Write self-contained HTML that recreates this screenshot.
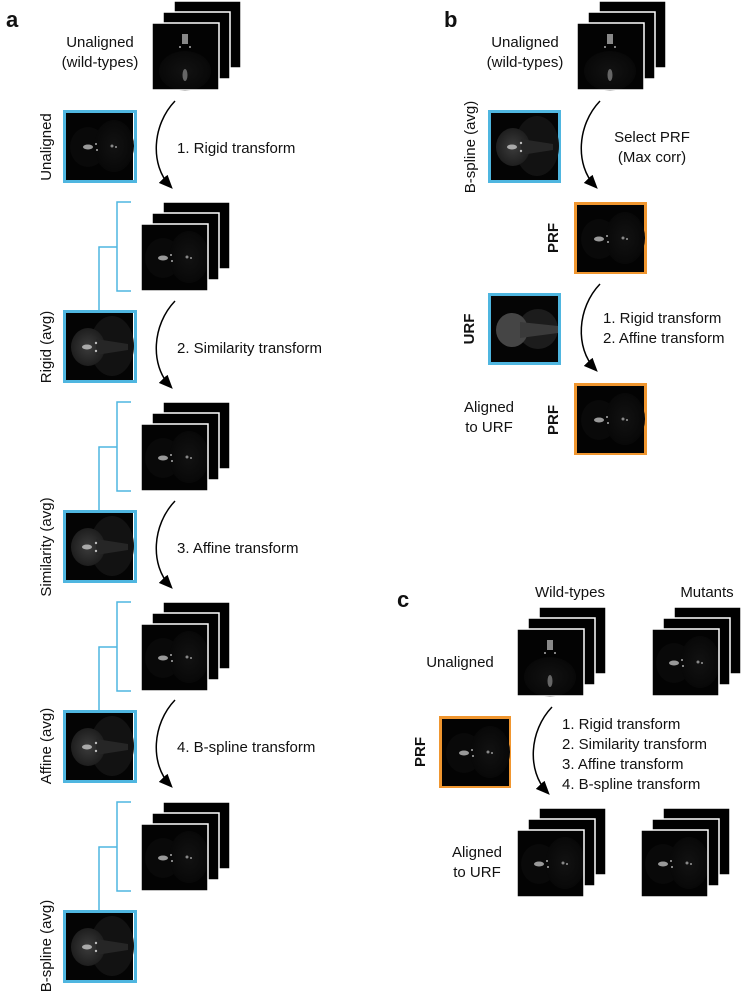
<!DOCTYPE html>
<html><head><meta charset="utf-8">
<style>
html,body{margin:0;padding:0;background:#fff;}
svg{display:block;}
text{font-family:"Liberation Sans",Arial,sans-serif;fill:#111;}
</style></head>
<body>
<svg width="743" height="998" viewBox="0 0 743 998" xmlns="http://www.w3.org/2000/svg">
<defs>
  <radialGradient id="dim" cx="50%" cy="50%" r="50%">
    <stop offset="0" stop-color="#121212"/><stop offset="1" stop-color="#080808"/>
  </radialGradient>
  <radialGradient id="avgg" cx="50%" cy="50%" r="50%">
    <stop offset="0" stop-color="#3c3c3c"/><stop offset="1" stop-color="#1e1e1e"/>
  </radialGradient>
  <g id="fh">
    <rect x="0" y="0" width="67" height="67" fill="#030303"/>
    <ellipse cx="22" cy="34" rx="18" ry="20" fill="#090909"/>
    <ellipse cx="48" cy="33" rx="20" ry="26" fill="url(#dim)"/>
    <ellipse cx="22" cy="34" rx="5" ry="2.5" fill="#999"/>
    <circle cx="30" cy="31" r="1" fill="#aaa"/><circle cx="31" cy="37" r="1" fill="#aaa"/>
    <circle cx="46" cy="33" r="1.5" fill="#888"/><circle cx="50" cy="34" r="1" fill="#999"/>
  </g>
  <g id="fv">
    <rect x="0" y="0" width="67" height="67" fill="#030303"/>
    <ellipse cx="33" cy="48" rx="26" ry="20" fill="url(#dim)"/>
    <rect x="30" y="11" width="6" height="10" fill="#888"/>
    <circle cx="28" cy="24" r="1" fill="#aaa"/><circle cx="38" cy="24" r="1" fill="#aaa"/>
    <ellipse cx="33" cy="52" rx="2.5" ry="6" fill="#666"/>
  </g>
  <g id="av">
    <rect x="0" y="0" width="67" height="67" fill="#040404"/>
    <ellipse cx="46" cy="33" rx="22" ry="30" fill="#121212"/>
    <ellipse cx="22" cy="34" rx="17" ry="19" fill="url(#avgg)"/>
    <path d="M30,26 L62,31 L62,37 L30,42 Z" fill="#262626"/>
    <ellipse cx="21" cy="34" rx="5" ry="2.5" fill="#aaa"/>
    <circle cx="30" cy="30" r="1.2" fill="#bbb"/><circle cx="30" cy="38" r="1.2" fill="#bbb"/>
  </g>
  <g id="stk">
    <rect x="22" y="-22" width="67" height="67" fill="#000" stroke="#fff" stroke-width="1.5"/>
    <rect x="11" y="-11" width="67" height="67" fill="#000" stroke="#fff" stroke-width="1.5"/>
  </g>
  <marker id="ah" markerWidth="14" markerHeight="12" refX="10" refY="6" orient="auto" markerUnits="userSpaceOnUse">
    <path d="M0,0 L14,6 L0,12 Z" fill="#000"/>
  </marker>
</defs>

<!-- Panel a -->
<text x="6" y="27" font-size="22" font-weight="bold">a</text>
<text x="100" y="47" font-size="15" text-anchor="middle">Unaligned</text>
<text x="100" y="67" font-size="15" text-anchor="middle">(wild-types)</text>
<use href="#stk" x="152" y="23"/>
<use href="#fv" x="152" y="23"/>
<rect x="152" y="23" width="67" height="67" fill="none" stroke="#fff" stroke-width="1.5"/>

<rect x="64.5" y="111.5" width="71" height="70" fill="none" stroke="#4fb6e0" stroke-width="3"/>
<use href="#fh" x="66" y="113"/>
<text transform="translate(51,147) rotate(-90)" font-size="15" text-anchor="middle">Unaligned</text>

<path d="M175,101 C152,125 150,165 170,186" fill="none" stroke="#000" stroke-width="1.5" marker-end="url(#ah)"/>
<text x="177" y="153" font-size="15">1. Rigid transform</text>

<g id="sec">
  <use href="#stk" x="141" y="224"/>
  <use href="#fh" x="141" y="224"/>
  <rect x="141" y="224" width="67" height="67" fill="none" stroke="#fff" stroke-width="1.5"/>
  <path d="M131,202 H117 V291 H131 M117,247 H99 V311" fill="none" stroke="#4fb6e0" stroke-width="1.5"/>
  <rect x="64.5" y="311.5" width="71" height="70" fill="none" stroke="#4fb6e0" stroke-width="3"/>
  <use href="#av" x="66" y="313"/>
</g>
<text transform="translate(51,347) rotate(-90)" font-size="15" text-anchor="middle">Rigid (avg)</text>
<path d="M175,301 C152,325 150,365 170,386" fill="none" stroke="#000" stroke-width="1.5" marker-end="url(#ah)"/>
<text x="177" y="353" font-size="15">2. Similarity transform</text>

<use href="#sec" y="200"/>
<text transform="translate(51,547) rotate(-90)" font-size="15" text-anchor="middle">Similarity (avg)</text>
<path d="M175,501 C152,525 150,565 170,586" fill="none" stroke="#000" stroke-width="1.5" marker-end="url(#ah)"/>
<text x="177" y="553" font-size="15">3. Affine transform</text>

<use href="#sec" y="400"/>
<text transform="translate(51,746) rotate(-90)" font-size="15" text-anchor="middle">Affine (avg)</text>
<path d="M175,700 C152,724 150,764 170,785" fill="none" stroke="#000" stroke-width="1.5" marker-end="url(#ah)"/>
<text x="177" y="752" font-size="15">4. B-spline transform</text>

<use href="#sec" y="600"/>
<text transform="translate(51,946) rotate(-90)" font-size="15" text-anchor="middle">B-spline (avg)</text>

<!-- Panel b -->
<text x="444" y="27" font-size="22" font-weight="bold">b</text>
<text x="525" y="47" font-size="15" text-anchor="middle">Unaligned</text>
<text x="525" y="67" font-size="15" text-anchor="middle">(wild-types)</text>
<use href="#stk" x="577" y="23"/>
<use href="#fv" x="577" y="23"/>
<rect x="577" y="23" width="67" height="67" fill="none" stroke="#fff" stroke-width="1.5"/>

<rect x="489.5" y="111.5" width="70" height="70" fill="none" stroke="#4fb6e0" stroke-width="3"/>
<use href="#av" x="491" y="113"/>
<text transform="translate(475,147) rotate(-90)" font-size="15" text-anchor="middle">B-spline (avg)</text>
<path d="M600,101 C577,125 575,165 595,186" fill="none" stroke="#000" stroke-width="1.5" marker-end="url(#ah)"/>
<text x="652" y="142" font-size="15" text-anchor="middle">Select PRF</text>
<text x="652" y="162" font-size="15" text-anchor="middle">(Max corr)</text>

<rect x="575.5" y="203.5" width="70" height="69" fill="none" stroke="#f0962f" stroke-width="3"/>
<use href="#fh" x="577" y="205"/>
<text transform="translate(558,238) rotate(-90)" font-size="15" font-weight="bold" text-anchor="middle">PRF</text>

<rect x="489.5" y="294.5" width="70" height="69" fill="none" stroke="#4fb6e0" stroke-width="3"/>
<rect x="491" y="296" width="67" height="66" fill="#050505"/>
<ellipse cx="538" cy="329" rx="20" ry="20" fill="#1c1c1c"/>
<ellipse cx="512" cy="330" rx="16" ry="17" fill="#454545"/>
<path d="M520,322 L558,326 L558,333 L520,338 Z" fill="#3a3a3a"/>
<text transform="translate(474,329) rotate(-90)" font-size="15" font-weight="bold" text-anchor="middle">URF</text>
<path d="M600,284 C577,308 575,348 595,369" fill="none" stroke="#000" stroke-width="1.5" marker-end="url(#ah)"/>
<text x="603" y="323" font-size="15">1. Rigid transform</text>
<text x="603" y="343" font-size="15">2. Affine transform</text>

<rect x="575.5" y="384.5" width="70" height="69" fill="none" stroke="#f0962f" stroke-width="3"/>
<use href="#fh" x="577" y="386"/>
<text transform="translate(558,420) rotate(-90)" font-size="15" font-weight="bold" text-anchor="middle">PRF</text>
<text x="489" y="412" font-size="15" text-anchor="middle">Aligned</text>
<text x="489" y="432" font-size="15" text-anchor="middle">to URF</text>

<!-- Panel c -->
<text x="397" y="607" font-size="22" font-weight="bold">c</text>
<text x="570" y="597" font-size="15" text-anchor="middle">Wild-types</text>
<text x="707" y="597" font-size="15" text-anchor="middle">Mutants</text>
<use href="#stk" x="517" y="629"/>
<use href="#fv" x="517" y="629"/>
<rect x="517" y="629" width="67" height="67" fill="none" stroke="#fff" stroke-width="1.5"/>
<use href="#stk" x="652" y="629"/>
<use href="#fh" x="652" y="629"/>
<rect x="652" y="629" width="67" height="67" fill="none" stroke="#fff" stroke-width="1.5"/>
<text x="460" y="667" font-size="15" text-anchor="middle">Unaligned</text>

<rect x="440.5" y="717.5" width="69" height="69" fill="none" stroke="#f0962f" stroke-width="3"/>
<use href="#fh" x="442" y="719"/>
<text transform="translate(425,752) rotate(-90)" font-size="15" font-weight="bold" text-anchor="middle">PRF</text>
<path d="M552,707 C529,731 527,771 547,792" fill="none" stroke="#000" stroke-width="1.5" marker-end="url(#ah)"/>
<text x="562" y="729" font-size="15">1. Rigid transform</text>
<text x="562" y="749" font-size="15">2. Similarity transform</text>
<text x="562" y="769" font-size="15">3. Affine transform</text>
<text x="562" y="789" font-size="15">4. B-spline transform</text>

<use href="#stk" x="517" y="830"/>
<use href="#fh" x="517" y="830"/>
<rect x="517" y="830" width="67" height="67" fill="none" stroke="#fff" stroke-width="1.5"/>
<use href="#stk" x="641" y="830"/>
<use href="#fh" x="641" y="830"/>
<rect x="641" y="830" width="67" height="67" fill="none" stroke="#fff" stroke-width="1.5"/>
<text x="477" y="857" font-size="15" text-anchor="middle">Aligned</text>
<text x="477" y="877" font-size="15" text-anchor="middle">to URF</text>
</svg>
</body></html>
